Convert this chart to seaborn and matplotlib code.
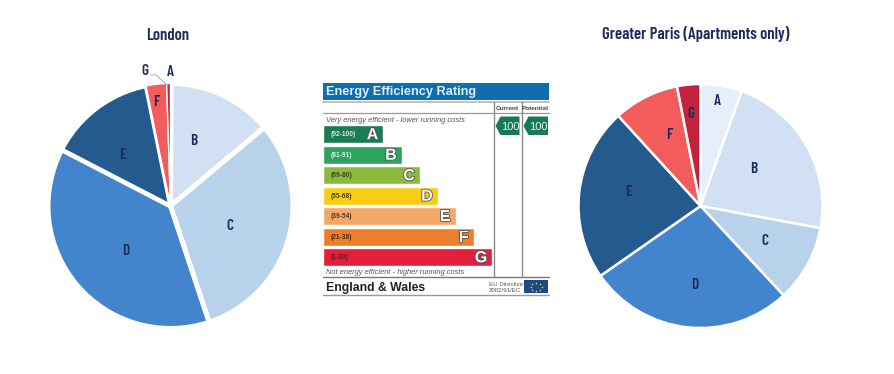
import matplotlib
matplotlib.use('Agg')
import matplotlib.pyplot as plt
import matplotlib.patheffects as pe
from matplotlib.patches import Rectangle, Polygon
import seaborn as sns
import pandas as pd

# Pie data
grades = ['A', 'B', 'C', 'D', 'E', 'F', 'G']
london = [0.1, 13.8, 31.0, 37.7, 14.2, 2.7, 0.5]
paris = [5.5, 22.5, 10.2, 27.3, 23.0, 8.7, 3.1]
pie_colors = ['#e6eff9', '#d2e0f3', '#b8d2ec', '#4285cd', '#255a8f', '#f25c5c', '#c2223b']

# EPC panel data
bands = ['(92-100)', '(81-91)', '(69-80)', '(55-68)', '(39-54)', '(21-38)', '(1-20)']
band_len = [60, 78.5, 96.5, 114.5, 132.5, 151, 168.5]
band_colors = ['#1b7b57', '#2aa45f', '#8cba3f', '#f8cd14', '#f3a868', '#ec7f2b', '#e31f3d']
band_text = ['#d5e8df', '#d8efe0', '#35451a', '#4a3f10', '#4a3a28', '#4a3014', '#7a1020']

W, H = 894, 374
NAVY = '#1c2a5c'

sns.set_theme(style='white')
plt.rcParams['font.family'] = ['Barlow Condensed', 'Archivo Narrow', 'Liberation Sans', 'DejaVu Sans']

fig = plt.figure(figsize=(W / 100, H / 100), dpi=100, facecolor='white')


def px_axes(x0, y0, x1, y1):
    return fig.add_axes([x0 / W, 1 - y1 / H, (x1 - x0) / W, (y1 - y0) / H])


# Pies
def draw_pie(cx, cy, r, values, widths):
    ax = px_axes(cx - r, cy - r, cx + r, cy + r)
    wedges, _ = ax.pie(values, colors=pie_colors, startangle=90, counterclock=False, radius=1,
                       wedgeprops={'edgecolor': 'white'})
    for w, lw in zip(wedges, widths):
        w.set_linewidth(lw)
    ax.set_xlim(-1, 1)
    ax.set_ylim(-1, 1)


draw_pie(170.5, 206, 122.5, london, [2.0, 3.6, 3.6, 3.6, 3.2, 1.0, 1.0])
draw_pie(700.5, 206, 122, paris, [1.8, 1.8, 1.8, 1.8, 1.8, 1.8, 1.8])

# EPC bars
ax_bar = px_axes(323, 123.9, 493, 267.4)
df = pd.DataFrame({'band': bands, 'len': band_len, 'grade': grades})
sns.barplot(data=df, y='band', x='len', hue='band', palette=band_colors, legend=False,
            width=0.89, saturation=1, ax=ax_bar)
ax_bar.set_xlim(0, 170)
ax_bar.axis('off')

# Overlay in pixel coordinates, for text and panel decorations
ov = fig.add_axes([0, 0, 1, 1], zorder=5)
ov.set_xlim(0, W)
ov.set_ylim(H, 0)
ov.axis('off')

sans = ['Liberation Sans', 'DejaVu Sans']
ov.add_patch(Rectangle((323, 83), 226, 17, color='#0f6db0', lw=0))
ov.text(326.5, 92, 'Energy Efficiency Rating', color='#dcefff', fontsize=9.2, weight='bold',
        family=sans, va='center')
for y, c, lw in [(101.5, '#b5b5b5', 1.2), (113, '#999999', 0.9), (276.7, '#777777', 1.0), (295, '#999999', 1.0)]:
    ov.plot([323, 549], [y, y], color=c, lw=lw)
for x in [493.7, 521.7]:
    ov.plot([x, x], [102, 276.7], color='#8a8a8a', lw=1.0)
ov.text(507.7, 108, 'Current', fontsize=4.6, weight='bold', color='#444444', family=sans, ha='center', va='center')
ov.text(535.5, 108, 'Potential', fontsize=4.6, weight='bold', color='#444444', family=sans, ha='center', va='center')
ov.text(326.5, 120, 'Very energy efficient - lower running costs', fontsize=5.4, style='italic',
        color='#555555', family=sans, va='center')
ov.text(326.5, 272.5, 'Not energy efficient - higher running costs', fontsize=5.4, style='italic',
        color='#555555', family=sans, va='center')

for i, (b, g, n, tc) in enumerate(zip(bands, grades, band_len, band_text)):
    yc = 134.7 + 20.5 * i
    ov.text(330.5, yc, b, fontsize=4.8, weight='bold', color=tc, family=sans, va='center')
    ov.text(323 + n - 10.5, yc, g, fontsize=11.5, weight='bold', color='white', family=sans,
            ha='center', va='center',
            path_effects=[pe.withStroke(linewidth=1.2, foreground='#555555')])

for xl, xr in [(495.5, 519.5), (523.5, 548)]:
    ov.add_patch(Polygon([(xl, 126), (xl + 5, 116.5), (xr, 116.5), (xr, 135), (xl + 5, 135)],
                         color='#17795a', lw=0))
    ov.text((xl + xr) / 2 + 2.5, 126.5, '100', fontsize=8, color='#e8f3ee', family=sans, ha='center', va='center')

ov.text(326.5, 288, 'England & Wales', fontsize=8.8, weight='bold', color='#222222', family=sans, va='center')
ov.text(489, 284, 'EU Directive', fontsize=4.4, color='#555555', family=sans, va='center')
ov.text(489, 290.5, '2002/91/EC', fontsize=4.4, color='#555555', family=sans, va='center')
ov.add_patch(Rectangle((524, 280), 24, 13, color='#1c4a86', lw=0))
ov.scatter([536, 540, 541.5, 540, 536, 532, 530.5, 532], [282.5, 283.5, 286.5, 289.5, 290.5, 289.5, 286.5, 283.5],
           s=1.2, color='#e6d25a', lw=0)

# Pie titles and labels
ov.text(168, 35, 'London', fontsize=12, weight='semibold', color=NAVY, ha='center', va='center')
ov.text(696, 34, 'Greater Paris (Apartments only)', fontsize=12, weight='semibold', color=NAVY, ha='center', va='center')

london_pos = [(170, 72), (194, 141), (230, 226), (126, 251), (123, 155), (156, 102), (145, 71)]
paris_pos = [(717, 101), (754, 169), (765, 241), (695, 285), (628, 192), (669, 135), (691, 114)]
for g, p in zip(grades, london_pos):
    ov.text(p[0], p[1], g, fontsize=11, weight='semibold', color=NAVY, ha='center', va='center')
for g, p in zip(grades, paris_pos):
    ov.text(p[0], p[1], g, fontsize=11, weight='semibold', color=NAVY, ha='center', va='center')

# Leader line for the G label
ov.plot([151, 156, 168], [75, 75, 86], color='#9aa6d8', lw=0.7)

fig.savefig('out.png', dpi=100)
